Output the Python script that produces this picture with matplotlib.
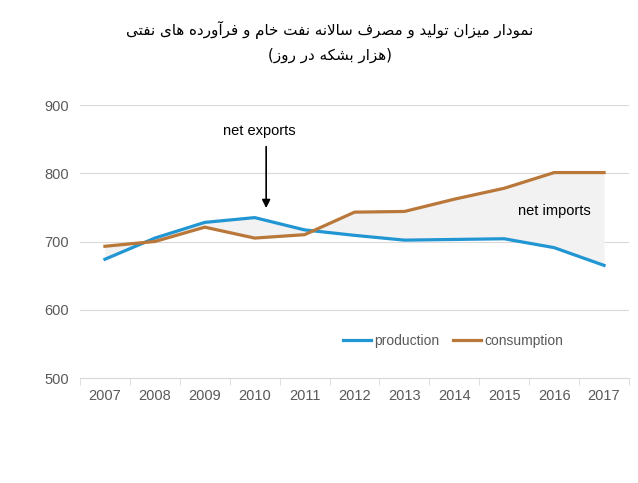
import numpy as np
import matplotlib
matplotlib.use('Agg')
import matplotlib.pyplot as plt

years = ['2007', '2008', '2009', '2010', '2011', '2012', '2013', '2014', '2015', '2016', '2017']
production = [674, 705, 728, 735, 717, 709, 702, 703, 704, 691, 665]
consumption = [693, 700, 721, 705, 710, 743, 744, 762, 778, 801, 801]

title_line1 = 'نمودار میزان تولید و مصرف سالانه نفت خام و فرآورده های نفتی'
title_line2 = '(هزار بشکه در روز)'

blue = '#2196d3'
brown = '#b9773a'
grey_text = '#595959'

# isolated, final, initial, medial (None = letter does not join to the next one)
forms = {
    'ا': (0xFE8D, 0xFE8E, None, None),
    'آ': (0xFE81, 0xFE82, None, None),
    'ب': (0xFE8F, 0xFE90, 0xFE91, 0xFE92),
    'ت': (0xFE95, 0xFE96, 0xFE97, 0xFE98),
    'خ': (0xFEA5, 0xFEA6, 0xFEA7, 0xFEA8),
    'د': (0xFEA9, 0xFEAA, None, None),
    'ر': (0xFEAD, 0xFEAE, None, None),
    'ز': (0xFEAF, 0xFEB0, None, None),
    'س': (0xFEB1, 0xFEB2, 0xFEB3, 0xFEB4),
    'ش': (0xFEB5, 0xFEB6, 0xFEB7, 0xFEB8),
    'ص': (0xFEB9, 0xFEBA, 0xFEBB, 0xFEBC),
    'ف': (0xFED1, 0xFED2, 0xFED3, 0xFED4),
    'ل': (0xFEDD, 0xFEDE, 0xFEDF, 0xFEE0),
    'م': (0xFEE1, 0xFEE2, 0xFEE3, 0xFEE4),
    'ن': (0xFEE5, 0xFEE6, 0xFEE7, 0xFEE8),
    'ه': (0xFEE9, 0xFEEA, 0xFEEB, 0xFEEC),
    'و': (0xFEED, 0xFEEE, None, None),
    'ی': (0xFBFC, 0xFBFD, 0xFBFE, 0xFBFF),
    'ک': (0xFB8E, 0xFB8F, 0xFB90, 0xFB91),
    'لا': (0xFEFB, 0xFEFC, None, None),
    'لآ': (0xFEF5, 0xFEF6, None, None),
}


def shape(text):
    # join lam-alef first
    units = []
    i = 0
    while i < len(text):
        if text[i] == 'ل' and i + 1 < len(text) and text[i + 1] in 'اآ':
            units.append(text[i:i + 2])
            i += 2
        else:
            units.append(text[i])
            i += 1
    out = []
    for k, u in enumerate(units):
        if u not in forms:
            out.append(u)
            continue
        prev = units[k - 1] if k > 0 else None
        nxt = units[k + 1] if k + 1 < len(units) else None
        joins_prev = prev in forms and forms[prev][2] is not None
        joins_next = nxt in forms and forms[u][2] is not None
        iso, fin, ini, med = forms[u]
        if joins_prev and joins_next:
            c = med
        elif joins_prev:
            c = fin
        elif joins_next:
            c = ini
        else:
            c = iso
        out.append(chr(c))
    vis = ''.join(out)[::-1]
    return vis.translate(str.maketrans('()', ')('))


fig = plt.figure(figsize=(6.38, 4.83), dpi=100)
ax = fig.add_axes([80 / 638, 1 - 378 / 483, 549 / 638, 273 / 483])

x = np.arange(len(years))
ax.fill_between(x, production, consumption, color='#f2f2f2', lw=0, zorder=1)
ax.plot(x, production, color=blue, lw=2.3, label='production', zorder=3)
ax.plot(x, consumption, color=brown, lw=2.3, label='consumption', zorder=3)

ax.set_xlim(-0.5, len(years) - 0.5)
ax.set_ylim(500, 900)
ax.set_yticks([500, 600, 700, 800, 900])
ax.set_xticks(x)
ax.set_xticklabels(years)
ax.set_xticks(np.arange(-0.5, len(years), 1), minor=True)
ax.yaxis.grid(True, color='#d9d9d9', lw=0.8, zorder=0)
ax.set_axisbelow(True)
for s in ['top', 'right', 'left']:
    ax.spines[s].set_visible(False)
ax.spines['bottom'].set_color('#d9d9d9')
ax.tick_params(axis='both', which='major', length=0, labelsize=10.5,
               labelcolor=grey_text, pad=8)
ax.tick_params(axis='x', which='minor', length=5, color='#d9d9d9')
for lab in ax.get_xticklabels() + ax.get_yticklabels():
    lab.set_family('Liberation Sans')

# arrow pointing at 2010
ax.annotate('', xy=(3.23, 749), xytext=(3.23, 839),
            arrowprops=dict(arrowstyle='-|>', color='black', lw=1.2,
                            shrinkA=0, shrinkB=0, mutation_scale=12))
ax.text(3.1, 862, 'net exports', ha='center', va='center', fontsize=10.5,
        family='Liberation Sans')
ax.text(9.0, 744, 'net imports', ha='center', va='center', fontsize=10.5,
        family='Liberation Sans')

leg = ax.legend(loc='center', bbox_to_anchor=(0.68, 0.135), ncol=2,
                frameon=False, handlelength=2.0, handletextpad=0.25,
                columnspacing=1.0, prop={'family': 'Liberation Sans', 'size': 10})
for t in leg.get_texts():
    t.set_color(grey_text)

fig.text(330 / 638, 1 - 30 / 483, shape(title_line1), ha='center', va='center',
         fontsize=10.9, family='DejaVu Sans')
fig.text(330 / 638, 1 - 55 / 483, shape(title_line2), ha='center', va='center',
         fontsize=10.9, family='DejaVu Sans')

fig.savefig('out.png', dpi=100)
